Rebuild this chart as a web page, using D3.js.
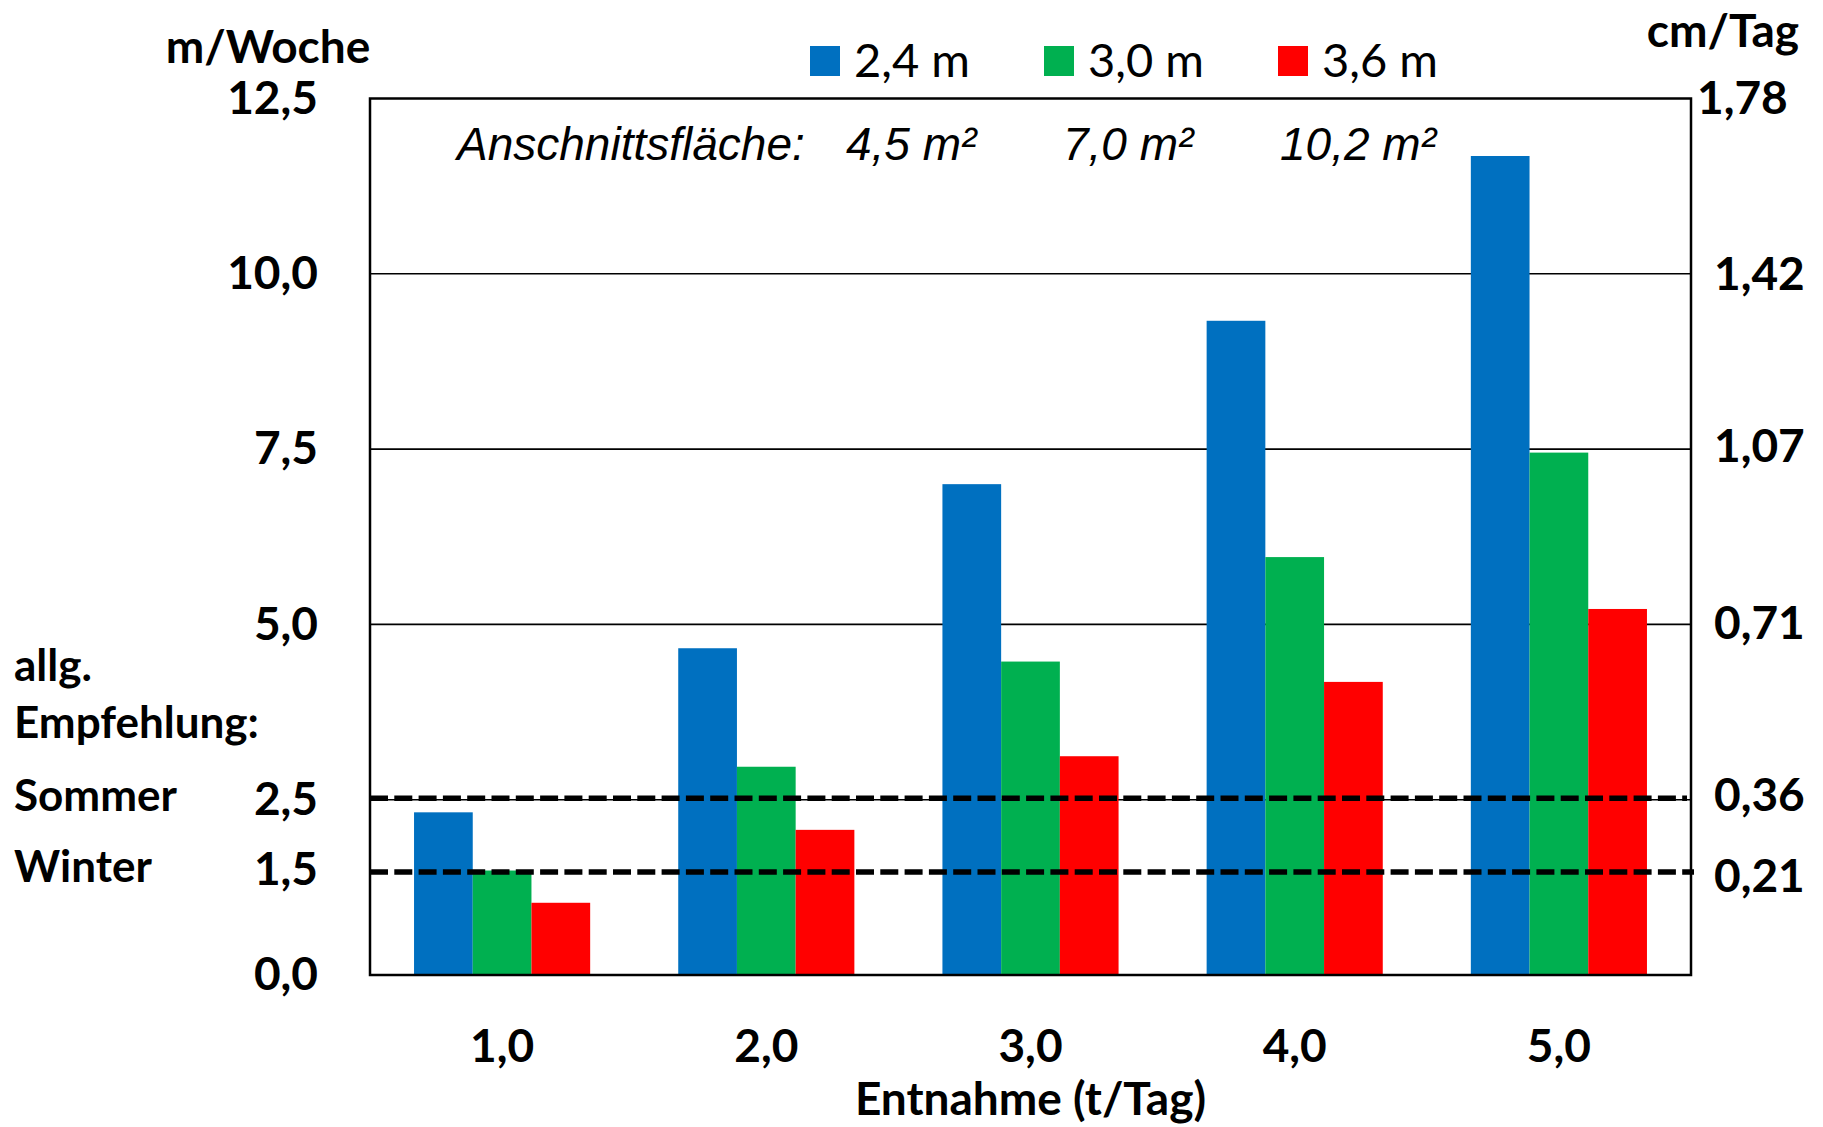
<!DOCTYPE html>
<html>
<head>
<meta charset="utf-8">
<script src="https://cdn.jsdelivr.net/npm/d3@7"></script>
<style>
  html, body { margin: 0; padding: 0; background: #fff; }
  svg { display: block; }
</style>
</head>
<body>
<svg id="chart" width="1823" height="1127"></svg>
<script>
// Entnahme (t/Tag) categories
const categories = ["1,0", "2,0", "3,0", "4,0", "5,0"];
// Series: Breite des Anschnitts
const seriesNames = ["2,4 m", "3,0 m", "3,6 m"];
const seriesColors = ["#0070C0", "#00B050", "#FF0000"];
// Vorschub in m/Woche
const values24 = [2.32, 4.66, 7.00, 9.33, 11.68];
const values30 = [1.49, 2.97, 4.47, 5.96, 7.45];
const values36 = [1.03, 2.07, 3.12, 4.18, 5.22];
// Anschnittsflächen
const areaLabels = ["4,5 m²", "7,0 m²", "10,2 m²"];
// Axis ticks
const leftTicks = [0, 1.5, 2.5, 5, 7.5, 10, 12.5];
const rightTicks = [0.21, 0.36, 0.71, 1.07, 1.42, 1.78];
const gridValues = [2.5, 5, 7.5, 10];
// allg. Empfehlung (cm/Tag)
const recommendNames = ["Sommer", "Winter"];
const recommendCmTag = [0.36, 0.21];

const seriesValues = [values24, values30, values36];

const svg = d3.select("#chart");
svg.append("rect").attr("width", 1823).attr("height", 1127).attr("fill", "#fff");

const plot = { left: 370, right: 1691, top: 98.5, bottom: 975 };
const boldFont = "Lato, 'Open Sans', sans-serif";

const x0 = d3.scaleBand().domain(categories).range([plot.left, plot.right])
  .paddingInner(1 / 3).paddingOuter(1 / 6);
const x1 = d3.scaleBand().domain(d3.range(seriesNames.length)).range([0, x0.bandwidth()]);
const y = d3.scaleLinear().domain([0, 12.5]).range([plot.bottom, plot.top]);
// cm/Tag = m/Woche / 7 * 100 / 100
const yRight = d3.scaleLinear().domain([0, 12.5 / 7]).range([plot.bottom, plot.top]);

const de = d3.formatLocale({ decimal: ",", thousands: ".", grouping: [3], currency: ["", " €"] });
const fmt1 = de.format(".1f");
const fmt2 = de.format(".2f");

// gridlines
svg.append("g").selectAll("line").data(gridValues).join("line")
  .attr("x1", plot.left).attr("x2", plot.right)
  .attr("y1", d => y(d)).attr("y2", d => y(d))
  .attr("stroke", "#000").attr("stroke-width", 1.6);

// bars
const groups = svg.append("g").selectAll("g").data(categories).join("g")
  .attr("transform", d => `translate(${x0(d)},0)`);
groups.selectAll("rect")
  .data((c, ci) => seriesValues.map((vals, si) => ({ si, v: vals[ci] })))
  .join("rect")
  .attr("x", d => x1(d.si))
  .attr("width", x1.bandwidth())
  .attr("y", d => y(d.v))
  .attr("height", d => y(0) - y(d.v))
  .attr("fill", d => seriesColors[d.si]);

// recommendation lines (dashed)
svg.append("g").selectAll("line").data(recommendCmTag).join("line")
  .attr("x1", plot.left)
  .attr("x2", (d, i) => i === 0 ? plot.right - 4 : plot.right + 3)
  .attr("y1", d => yRight(d)).attr("y2", d => yRight(d))
  .attr("stroke", "#000").attr("stroke-width", 5.5)
  .attr("stroke-dasharray", "18,6.3");

// plot frame
svg.append("rect")
  .attr("x", plot.left).attr("y", plot.top)
  .attr("width", plot.right - plot.left).attr("height", plot.bottom - plot.top)
  .attr("fill", "none").attr("stroke", "#000").attr("stroke-width", 2.5);

// left axis (m/Woche)
const leftAxis = svg.append("g").attr("transform", `translate(${plot.left},0)`)
  .call(d3.axisLeft(y).tickValues(leftTicks).tickFormat(fmt1).tickSize(0).tickPadding(52));
leftAxis.select(".domain").remove();
leftAxis.selectAll("text")
  .attr("font-family", boldFont).attr("font-weight", 700).attr("font-size", 46)
  .attr("fill", "#000").attr("dy", "0.32em");

// right axis (cm/Tag)
const rightAxis = svg.append("g").attr("transform", `translate(${plot.right},0)`)
  .call(d3.axisRight(yRight).tickValues(rightTicks).tickFormat(fmt2).tickSize(0).tickPadding(23));
rightAxis.select(".domain").remove();
rightAxis.selectAll("text")
  .attr("font-family", boldFont).attr("font-weight", 700).attr("font-size", 46)
  .attr("fill", "#000").attr("dy", d => d === 0.21 ? "0.42em" : "0.26em")
  .attr("x", d => d === 1.78 ? 6 : 23);

// bottom axis
const bottomAxis = svg.append("g").attr("transform", `translate(0,${plot.bottom})`)
  .call(d3.axisBottom(x0).tickSize(0).tickPadding(52));
bottomAxis.select(".domain").remove();
bottomAxis.selectAll("text")
  .attr("font-family", boldFont).attr("font-weight", 700).attr("font-size", 46)
  .attr("fill", "#000").attr("dy", 0).attr("y", 87);

// axis titles
const title = (txt, xPos, yPos, anchor) => svg.append("text")
  .attr("x", xPos).attr("y", yPos).attr("text-anchor", anchor)
  .attr("font-family", boldFont).attr("font-weight", 700).attr("font-size", 46)
  .attr("fill", "#000").text(txt);
title("m/Woche", 268, 63, "middle");
title("cm/Tag", 1723, 47, "middle");
title("Entnahme (t/Tag)", (plot.left + plot.right) / 2, 1115, "middle");

// left side notes
const note = (txt, yPos) => svg.append("text")
  .attr("x", 14).attr("y", yPos)
  .attr("font-family", boldFont).attr("font-weight", 700).attr("font-size", 44)
  .attr("fill", "#000").text(txt);
note("allg.", 681);
note("Empfehlung:", 738);
svg.append("g").selectAll("text").data(recommendNames).join("text")
  .attr("x", 14).attr("y", (d, i) => yRight(recommendCmTag[i]) + (i === 0 ? 13 : 10))
  .attr("font-family", boldFont).attr("font-weight", 700).attr("font-size", 44)
  .attr("fill", "#000").text(d => d);

// legend
const legend = svg.append("g").selectAll("g").data(seriesNames).join("g")
  .attr("transform", (d, i) => `translate(${810 + i * 234},46)`);
legend.append("rect").attr("width", 30).attr("height", 30)
  .attr("fill", (d, i) => seriesColors[i]);
legend.append("text").attr("x", 44).attr("y", 30.5)
  .attr("font-family", "Lato, 'Open Sans', sans-serif").attr("font-size", 47)
  .attr("fill", "#000").text(d => d);

// cross-section annotation
const italic = "'Liberation Sans', Arial, sans-serif";
svg.append("text").attr("x", 457).attr("y", 160)
  .attr("font-family", italic).attr("font-style", "italic").attr("font-size", 46)
  .attr("fill", "#000").text("Anschnittsfläche:");
svg.append("g").selectAll("text").data(areaLabels).join("text")
  .attr("x", (d, i) => 846 + i * 217).attr("y", 160)
  .attr("font-family", italic).attr("font-style", "italic").attr("font-size", 46)
  .attr("fill", "#000").text(d => d);
</script>
</body>
</html>
